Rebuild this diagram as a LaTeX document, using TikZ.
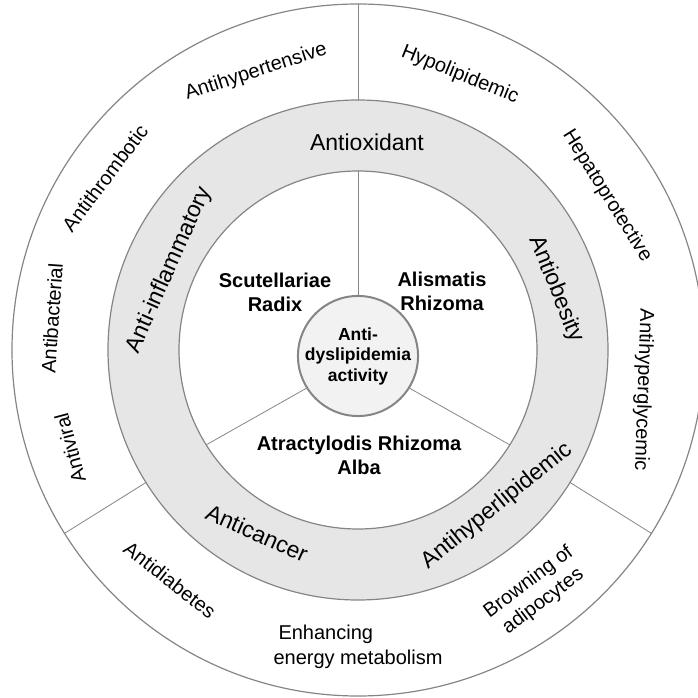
\documentclass[tikz,border=0pt]{standalone}
\usepackage{fontspec}
\setmainfont{Liberation Sans}
\definecolor{ringgray}{HTML}{E6E6E6}
\definecolor{hubgray}{HTML}{F2F2F2}
\definecolor{edgegray}{HTML}{858585}
\tikzset{
	ringlabel/.style={font=\fontsize{23}{27}\selectfont, inner sep=0},
	outlabel/.style={font=\fontsize{20}{24}\selectfont, align=center, inner sep=0},
	herblabel/.style={font=\fontsize{20}{24}\selectfont\bfseries, align=center, inner sep=0},
}
\begin{document}
	\begin{tikzpicture}[x=1pt, y=1pt, line join=round, line cap=round]
		\useasboundingbox (-358,-348) rectangle (340,350);
		\clip (-358,-348) rectangle (340,350);
		\path
		(0,0) coordinate (O)
		(0,-6) coordinate (H)
		;
		\draw[edgegray, line width=1.2]
		(O) circle (346)
		;
		\draw[edgegray, line width=1.2, fill=ringgray, even odd rule]
		(O) circle (250)
		(O) circle (179)
		;
		\node[circle, draw=edgegray, line width=2, fill=hubgray, minimum size=112, inner sep=0,
		font=\fontsize{17.5}{20.5}\selectfont\bfseries, align=center]
		(hub) at (H) {Anti-\\dyslipidemia\\activity};
		\foreach \g in {90,212,328}
		\draw[edgegray, line width=0.8] (hub.\g) -- (\g:179)
		(\g:250) -- (\g:346)
		;
		\foreach \n/\x/\y/\r/\t in {antiox/9/208/0/Antioxidant,
			antiinfl/-189/80/66/Anti-inflammatory,
			antiobes/198/61/-68/Antiobesity,
			anticanc/-101/-183/-24/Anticancer,
			antihyperlip/139/-156/39/Antihyperlipidemic}
		\node[ringlabel, rotate=\r] (\n) at (\x,\y) {\t};
		\foreach \n/\x/\y/\r/\t in {antihypert/-102/278/18/Antihypertensive,
			hypolip/102/275/-22/Hypolipidemic,
			hepato/249/154/-58/Hepatoprotective,
			antihypergly/285/-40/-92/Antihyperglycemic,
			browning/178/-242/37/{Browning of\\adipocytes},
			antidiab/-188/-230/-38/Antidiabetes,
			antivir/-288/-98/105/Antiviral,
			antibact/-306/32/86/Antibacterial,
			antithromb/-253/172/53/Antithrombotic}
		\node[outlabel, rotate=\r] (\n) at (\x,\y) {\t};
		\node[outlabel, align=left, font=\fontsize{20}{25}\selectfont]
		(energy) at (0,-297) {\hspace{5pt}Enhancing\\energy metabolism};
		\foreach \n/\x/\y/\t in {scutellariae/-83/58/{Scutellariae\\Radix},
			alismatis/84/59/{Alismatis\\Rhizoma},
			atractylodis/1/-105/{Atractylodis Rhizoma\\Alba}}
		\node[herblabel] (\n) at (\x,\y) {\t};
	\end{tikzpicture}
\end{document}
